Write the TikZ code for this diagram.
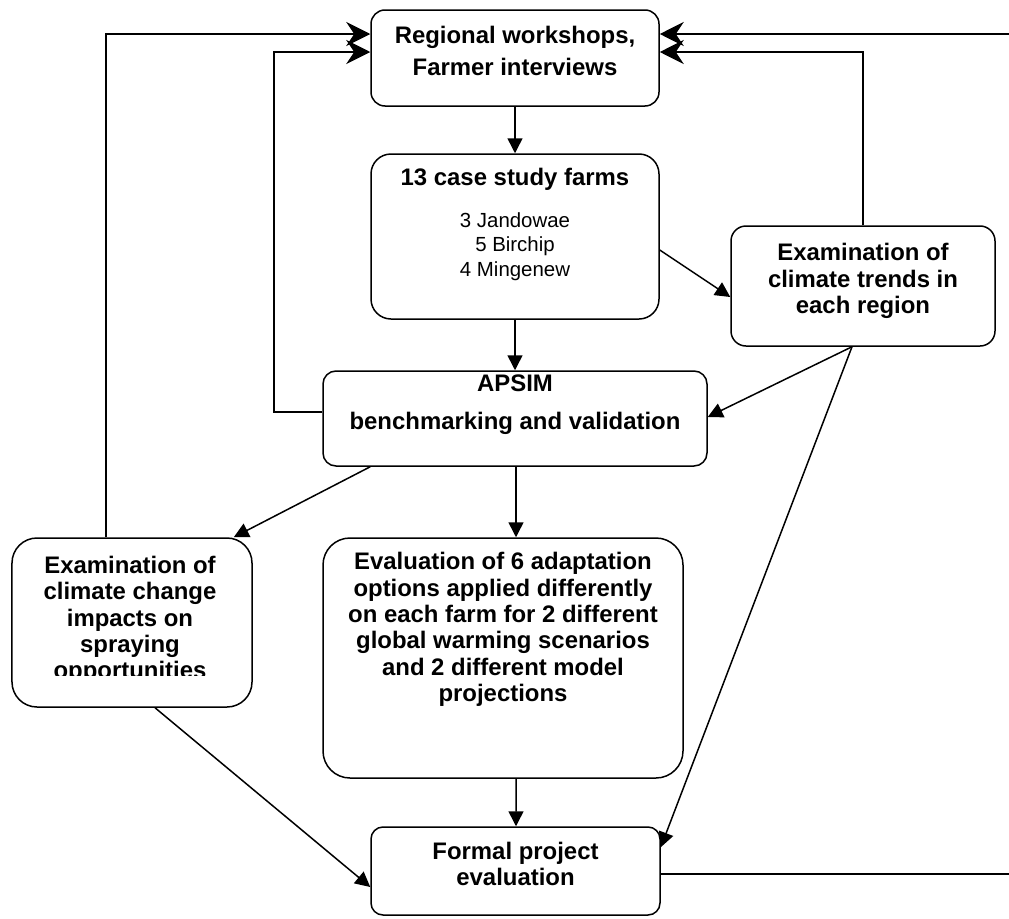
\documentclass[tikz,border=0pt]{standalone}
\usepackage{fontspec}
\setmainfont{Liberation Sans}
\usetikzlibrary{arrows.meta,calc}
\begin{document}
\begin{tikzpicture}[x=1bp,y=-1bp,line width=1.5bp,
  boxnode/.style={draw,line width=1.5bp,minimum width=#1,inner sep=0pt},
  bt/.style={align=center,inner sep=0pt,font=\fontsize{24}{26.5}\selectfont\bfseries},
  rt/.style={align=center,inner sep=0pt,font=\fontsize{20.5}{24.5}\selectfont},
  ar/.style={-{Triangle[length=15bp,width=15bp]}},
  topar/.style={-{Stealth[length=24bp,width=24bp,inset=8bp]}}
]
\useasboundingbox (0,0) rectangle (1009,919);
% boxes
\node[boxnode=288bp,minimum height=96bp,rounded corners=14bp] (b1) at (515,58) {};
\node[boxnode=288bp,minimum height=165bp,rounded corners=20bp] (b2) at (515,236.5) {};
\node[boxnode=264bp,minimum height=120bp,rounded corners=15bp] (b3) at (863,286) {};
\node[boxnode=384bp,minimum height=95bp,rounded corners=13bp] (b4) at (515,418.5) {};
\node[boxnode=240bp,minimum height=169bp,rounded corners=25bp] (b5) at (132,622.5) {};
\node[boxnode=360bp,minimum height=240bp,rounded corners=27bp] (b6) at (503,658) {};
\node[boxnode=289bp,minimum height=88bp,rounded corners=12bp] (b7) at (515.5,871) {};
% texts
\node[bt] (t1) at (515,51) {Regional workshops,\\[5bp]Farmer interviews};
\node[bt] (t2a) at (515,179) {13 case study farms};
\node[rt] (t2b) at (515,246.5) {3 Jandowae\\5 Birchip\\4 Mingenew};
\node[bt] (t3) at (863,281) {Examination of\\climate trends in\\each region};
\node[bt] (t4) at (515,404.5) {APSIM\\[11bp]benchmarking and validation};
\begin{scope}
\clip (12,538) rectangle (252,675.5);
\node[bt] (t5) at (130,620) {Examination of\\climate change\\impacts on\\spraying\\opportunities};
\end{scope}
\node[bt] (t6) at (503,629.5) {Evaluation of 6 adaptation\\options applied differently\\on each farm for 2 different\\global warming scenarios\\and 2 different model\\projections};
\node[bt] (t7) at (515.5,864) {Formal project\\evaluation};
% free ends
\coordinate (re1) at (1009,34);
\coordinate (re2) at (1009,874);
% connectors
\draw[ar] (b1.south) -- (b2.north);
\draw[ar] (b2.south) -- (b4.north);
\draw[ar] ($(b2.east)+(0,13.5)$) -- ($(b3.west)+(0,11)$);
\draw[ar] ($(b4.south)+(1,0)$) -- ($(b6.north)+(13,0)$);
\draw[ar] ($(b6.south)+(13,0)$) -- ($(b7.north)+(0.5,0)$);
\draw[ar] ($(b3.south)+(-11,0)$) -- ($(b4.east)+(0,-1.5)$);
\draw[ar] ($(b3.south)+(-11,0)$) -- ($(b7.north east)+(0,21)$);
\draw[ar] ($(b4.south west)+(48,0)$) -- ($(b5.north east)+(-19,0)$);
\draw[ar] ($(b5.south)+(23,0)$) -- ($(b7.west)+(0,16)$);
\draw[topar] ($(b5.north west)+(95,0)$) |- ($(b1.west)+(0,-24)$);
\draw[topar] ($(b4.west)+(0,-6.5)$) -| (274,100) |- ($(b1.west)+(0,-6)$);
\draw[topar] (re1) -- ($(b1.east)+(0,-24)$);
\draw[topar] (b3.north) |- ($(b1.east)+(0,-6)$);
\draw (b7.east |- re2) -- (re2);
\end{tikzpicture}
\end{document}
